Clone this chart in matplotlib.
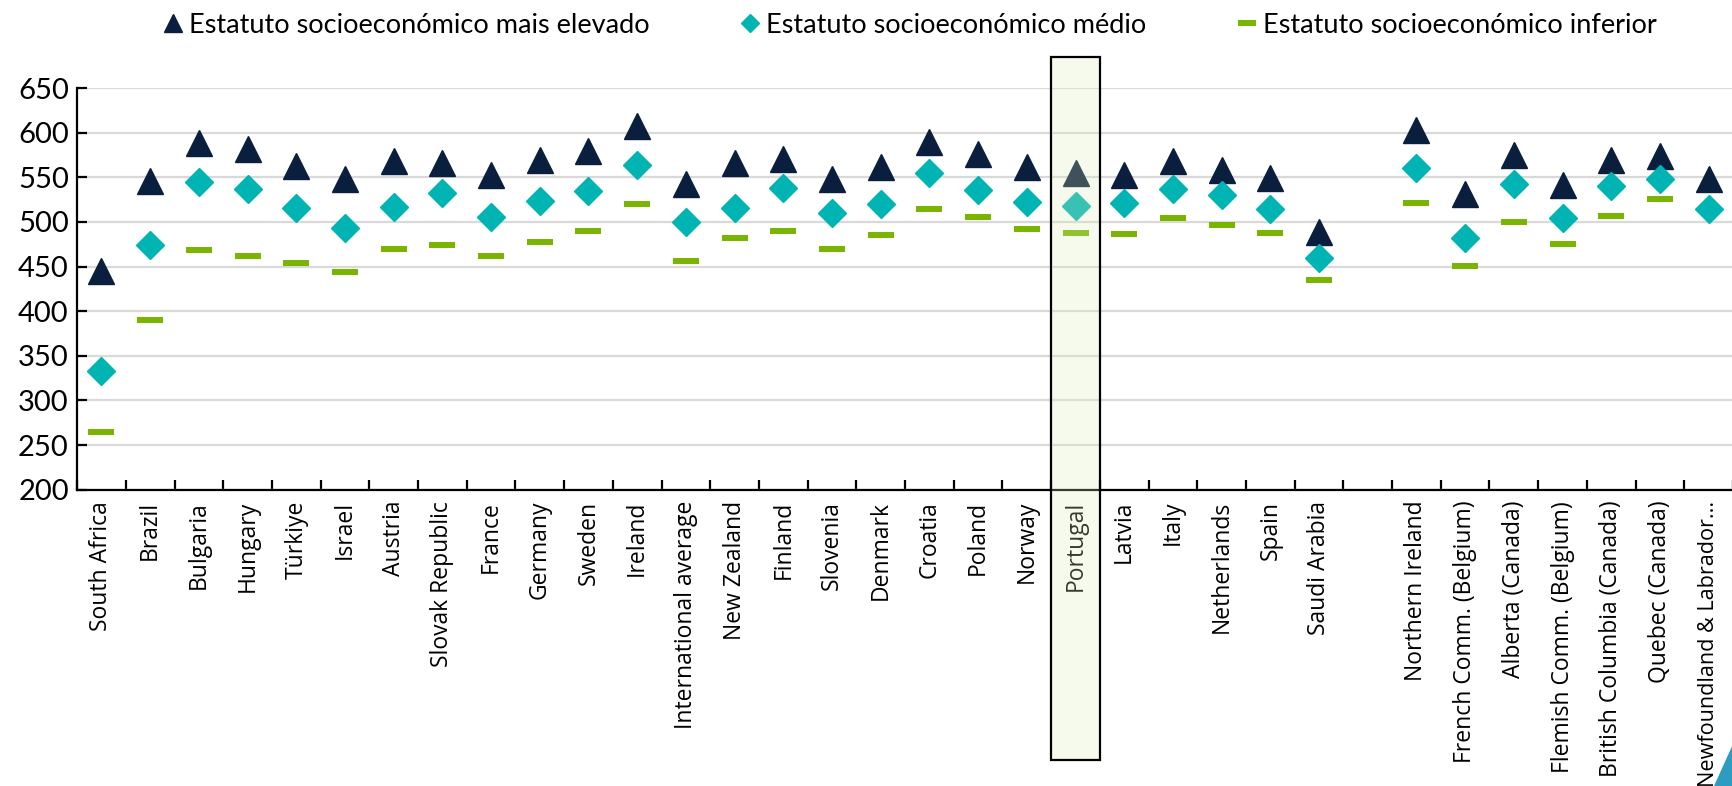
import matplotlib
matplotlib.use("Agg")
import matplotlib.pyplot as plt
import matplotlib.transforms as mtransforms
from matplotlib.patches import Rectangle, Polygon
import numpy as np

countries = [
    "South Africa", "Brazil", "Bulgaria", "Hungary", "Türkiye", "Israel",
    "Austria", "Slovak Republic", "France", "Germany", "Sweden", "Ireland",
    "International average", "New Zealand", "Finland", "Slovenia", "Denmark",
    "Croatia", "Poland", "Norway", "Portugal", "Latvia", "Italy",
    "Netherlands", "Spain", "Saudi Arabia", "",
    "Northern Ireland", "French Comm. (Belgium)", "Alberta (Canada)",
    "Flemish Comm. (Belgium)", "British Columbia (Canada)", "Quebec (Canada)",
    "Newfoundland & Labrador...",
]

high_ses = [
    445, 546, 588, 582, 563, 548, 568, 566, 553, 569, 580, 607,
    542, 566, 571, 548, 562, 590, 576, 561, 555, 553, 568,
    558, 549, 489, np.nan,
    603, 531, 575, 541, 569, 574, 548,
]

mid_ses = [
    333, 474, 545, 537, 516, 493, 517, 532, 505, 523, 535, 564,
    500, 516, 538, 510, 520, 555, 536, 522, 518, 521, 537,
    530, 514, 460, np.nan,
    560, 482, 543, 504, 540, 548, 514,
]

low_ses = [
    265, 390, 469, 462, 454, 444, 470, 474, 462, 478, 490, 520,
    456, 482, 490, 470, 485, 515, 505, 492, 488, 487, 504,
    497, 488, 435, np.nan,
    521, 451, 500, 475, 507, 526, np.nan,
]

series_labels = [
    "Estatuto socioeconómico mais elevado",
    "Estatuto socioeconómico médio",
    "Estatuto socioeconómico inferior",
]

highlight = "Portugal"

NAVY = "#0A1E3E"
TEAL = "#00B4B4"
GREEN = "#78B400"
GRID = "#D9D9D9"

fig = plt.figure(figsize=(17.33, 7.86), dpi=100)
ax = fig.add_axes([0.0445, 0.377, 0.9555, 0.511])

x = np.arange(len(countries))

h1, = ax.plot(x, high_ses, linestyle="none", marker="^", markersize=19,
              color=NAVY, zorder=3)
h2, = ax.plot(x, mid_ses, linestyle="none", marker="D", markersize=14.5,
              color=TEAL, zorder=3)
h3, = ax.plot(x, low_ses, linestyle="none", marker="_", markersize=19,
              markeredgewidth=4.3, color=GREEN, zorder=3)

ax.set_ylim(200, 650)
ax.set_yticks(np.arange(200, 651, 50))
ax.set_xlim(-0.5, len(countries) - 0.5)

# grid
ax.yaxis.grid(True, color=GRID, linewidth=1.6)
ax.set_axisbelow(True)

for side in ["top", "right"]:
    ax.spines[side].set_visible(False)
ax.spines["left"].set_linewidth(1.6)
ax.spines["bottom"].set_linewidth(1.6)

ax.set_xticks(x)
ax.set_xticklabels(countries, rotation=90)
for lbl in ax.get_xticklabels():
    lbl.set_family("Open Sans")
    lbl.set_fontsize(16.5)
# last label is long, keep it inside the picture
ax.get_xticklabels()[-1].set_fontsize(15.6)
ax.tick_params(axis="x", which="major", length=0, pad=8)
ax.set_xticks(np.arange(-0.5, len(countries), 1), minor=True)
ax.tick_params(axis="x", which="minor", direction="in", length=7, width=1.6)
ax.tick_params(axis="y", direction="in", length=7, width=1.6, labelsize=21,
               pad=6)
for lbl in ax.get_yticklabels():
    lbl.set_family("Lato")

# highlight box for Portugal
idx = countries.index(highlight)
trans = mtransforms.blended_transform_factory(ax.transData, fig.transFigure)
ax.add_patch(Rectangle((idx - 0.5, 0.033), 1, 0.8945, transform=trans,
                       facecolor="#DEEFB7", alpha=0.25, edgecolor="none",
                       clip_on=False, zorder=10))
ax.add_patch(Rectangle((idx - 0.5, 0.033), 1, 0.8945, transform=trans,
                       facecolor="none", edgecolor="black", linewidth=1.6,
                       clip_on=False, zorder=11))

fig.legend([h1, h2, h3], series_labels, loc="upper center",
           bbox_to_anchor=(0.524, 1.015), ncol=3, frameon=False,
           prop={"family": "Lato", "size": 19.5}, columnspacing=3.2,
           handletextpad=0.1, handlelength=1.0, markerscale=0.65)

# corner decoration
fig.patches.append(Polygon([(1714 / 1733, 0), (1.0, 42 / 786), (1.0, 0)],
                           closed=True, transform=fig.transFigure,
                           facecolor="#2E9BC1", edgecolor="none", zorder=20))

plt.savefig("out.png", dpi=100)
plt.close()
